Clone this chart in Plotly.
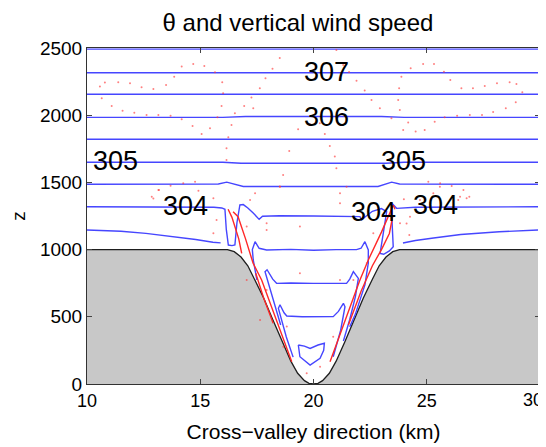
import plotly.graph_objects as go

# ---------------- data (km, m) ----------------
terrain_x = [10, 16.2, 16.5, 16.8, 17.1, 17.4, 17.8, 18.2, 18.6, 19.0, 19.3, 19.6, 19.8, 20.0,
             20.2, 20.4, 20.7, 21.0, 21.4, 21.8, 22.2, 22.6, 22.9, 23.2, 23.5, 23.8, 30]
terrain_z = [1000, 1000, 985, 945, 880, 780, 640, 480, 320, 170, 80, 25, 5, 0,
             5, 25, 80, 170, 320, 480, 640, 780, 880, 945, 985, 1000, 1000]

# potential temperature contours (blue)
th3075_x = [10, 30]
th3075_z = [2492, 2492]
th3070_x = [10, 30]
th3070_z = [2316, 2316]
th3065_x = [10, 16, 17, 23, 24, 30]
th3065_z = [2156, 2156, 2160, 2160, 2156, 2156]
th3060_x = [10, 16, 17, 23, 24, 30]
th3060_z = [1984, 1984, 1990, 1990, 1984, 1984]
th3055_x = [10, 30]
th3055_z = [1821, 1821]
th3050_x = [10, 16, 16.8, 23.2, 24, 30]
th3050_z = [1650, 1650, 1642, 1642, 1650, 1650]
th3045_x = [10, 15.8, 16.17, 16.5, 16.9, 22.85, 23.2, 23.45, 23.8, 30]
th3045_z = [1486, 1488, 1502, 1488, 1470, 1470, 1488, 1502, 1488, 1486]
th3040_x = [10, 14, 15.6, 15.95, 16.09, 16.15, 16.24, 16.4, 16.53, 16.62, 16.75, 16.9, 17.1,
            17.35, 17.6, 17.75, 18.5, 20, 21.5, 22.05, 22.12, 22.25, 22.6, 23.0, 23.23, 23.08,
            22.94, 23.1, 23.35, 23.52, 23.47, 23.47, 23.67, 24.5, 30]
th3040_z = [1319, 1319, 1315, 1310, 1300, 1150, 1034, 1030, 1034, 1200, 1332, 1335, 1310,
            1270, 1225, 1248, 1252, 1250, 1250, 1245, 1222, 1240, 1285, 1305, 1282, 1121,
            972, 965, 990, 1022, 1200, 1344, 1307, 1315, 1319]
th3035L_x = [10, 11.5, 12.6, 13.8, 14.8, 15.56, 15.9]
th3035L_z = [1146, 1137, 1121, 1098, 1075, 1055, 1050]
th3035R_x = [23.95, 24.5, 25.3, 26.5, 28.2, 30]
th3035R_z = [1049, 1068, 1086, 1112, 1133, 1146]
valA_x = [17.5, 17.34, 17.3, 17.42, 17.6, 17.93, 19.0, 20.0, 21.0, 21.9, 22.1, 22.27, 22.42,
          22.42, 22.27, 21.85, 21.6]
valA_z = [774, 923, 1000, 1059, 1010, 997, 1002, 995, 1000, 1000, 1010, 1059, 997,
          900, 737, 520, 426]
valB_x = [18.55, 18.2, 17.86, 17.95, 18.2, 18.37, 19.0, 20.0, 21.0, 21.46, 21.6, 21.76,
          21.98, 21.85, 21.6, 21.32]
valB_z = [439, 640, 836, 850, 780, 749, 752, 749, 752, 749, 780, 836,
          786, 650, 480, 320]
valC_x = [19.1, 18.8, 18.45, 18.52, 18.7, 18.82, 19.5, 20.2, 20.87, 21.1, 21.32, 21.39,
          21.2, 20.87]
valC_z = [200, 350, 563, 590, 530, 506, 500, 503, 501, 540, 600, 575, 400, 203]
valD_x = [19.33, 19.6, 19.85, 20.2, 20.48, 20.45, 20.29, 19.85, 19.4, 19.33]
valD_z = [290, 282, 265, 290, 303, 250, 191, 141, 203, 290]

# vertical wind speed contours (red)
wL1_x = [16.23, 16.4, 16.7, 16.83]
wL1_z = [1300, 1240, 1080, 972]
wL2_x = [16.45, 16.67, 17.0, 17.33, 17.71, 18.4, 19.04]
wL2_z = [1282, 1245, 1080, 900, 774, 460, 166]
wL3_x = [17.45, 17.8, 18.22]
wL3_z = [824, 640, 452]
wR1_x = [20.73, 21.2, 21.7, 22.05, 22.42, 23.0, 23.52, 23.6]
wR1_z = [166, 380, 600, 774, 923, 1130, 1330, 1300]
wR2_x = [21.54, 22.1, 22.6, 23.0, 23.35, 23.5]
wR2_z = [439, 690, 880, 1000, 1120, 1250]

# small-value vertical wind speed dots
dots_x = [10.57, 10.79, 11.38, 11.90, 12.41, 12.93, 13.49, 13.85, 14.18, 14.69, 15.18, 15.65,
          15.97, 16.01, 10.65, 11.09, 11.57, 12.09, 12.63, 13.15, 13.69, 14.18, 14.66, 15.06,
          15.43, 15.76, 15.94, 16.24, 16.38, 16.53, 16.94, 17.26, 17.63, 17.88, 18.19, 18.51,
          21.01, 21.31, 21.57, 21.90, 22.26, 22.56, 22.93, 23.44, 23.81, 23.74, 23.78, 23.88,
          24.29, 24.84, 25.32, 25.76, 26.04, 26.53, 27.04, 27.56, 28.10, 28.66, 28.96, 29.22,
          28.93, 28.49, 27.93, 27.44, 26.90, 26.34, 25.79, 25.35, 24.91, 24.51, 24.18, 23.96,
          16.16, 16.16, 18.93, 19.32, 19.84, 20.50, 20.72, 20.94, 21.01, 18.66, 18.51, 20.28,
          17.34, 12.93, 13.18, 13.69, 14.25, 14.77, 14.92, 25.07, 25.59, 26.10, 26.62, 26.88,
          26.39, 24.11, 24.23, 23.99, 12.86, 13.15, 15.58, 15.58, 15.72, 17.05, 17.42, 18.52,
          17.93, 21.17, 21.46, 23.82, 24.26, 24.70, 25.29, 26.47, 26.76, 25.58, 17.20, 17.93,
          19.40, 21.17, 17.05, 17.93, 19.40, 21.17, 21.76, 17.64, 18.82, 18.67, 21.61, 20.87,
          19.70, 20.29, 22.35, 22.64]
dots_z = [2213, 2243, 2245, 2238, 2208, 2195, 2225, 2287, 2362, 2381, 2367, 2319,
          2245, 2163, 2126, 2069, 2034, 2019, 2002, 2002, 1995, 1970, 1920, 1860,
          1902, 1984, 2069, 1836, 1927, 2014, 2069, 2131, 2200, 2274, 2346, 2426,
          2485, 2374, 2322, 2257, 2183, 2113, 2051, 1977, 2039, 2113, 2200, 2287,
          2349, 2381, 2381, 2324, 2262, 2200, 2200, 2217, 2237, 2245, 2232, 2170,
          2096, 2051, 2024, 2002, 2002, 1995, 1985, 1952, 1890, 1878, 1945, 1890,
          1754, 1667, 1734, 1895, 1935, 1860, 1771, 1692, 1605, 1555, 1469, 1940,
          2052, 1381, 1443, 1475, 1493, 1505, 1438, 1505, 1493, 1473, 1443, 1394,
          1369, 1195, 1108, 1374, 1394, 1444, 1382, 1121, 1220, 1171, 1419, 1468,
          1146, 1419, 1468, 1196, 1245, 1369, 1419, 1394, 1382, 1468, 1369, 1196,
          1171, 1344, 774, 700, 824, 774, 774, 476, 427, 278, 476, 352,
          80, 129, 898, 1121]

label_text = ["307", "306", "305", "305", "304", "304", "304"]
label_x = [20.57, 20.57, 11.24, 23.97, 14.35, 22.67, 25.39]
label_z = [2321, 1987, 1656, 1656, 1324, 1283, 1332]

x_ticks = [10, 15, 20, 25, 30]
x_tick_labels = ["10", "15", "20", "25", "30"]
z_ticks = [0, 500, 1000, 1500, 2000, 2500]

# ---------------- figure ----------------
# (the page body keeps its default 8px margin, so the figure is sized to fit inside it)
BLUE = "rgb(70,70,255)"
RED = "rgb(255,40,40)"
FONT = "Liberation Sans, Arial, Helvetica, sans-serif"
W, H = 538, 439

fig = go.Figure()

fig.add_trace(go.Scatter(x=terrain_x, y=terrain_z, mode="lines", fill="tozeroy",
                         fillcolor="rgb(200,200,200)",
                         line=dict(color="rgb(30,30,30)", width=1.3),
                         hoverinfo="skip", showlegend=False))

blue_lines = [(th3075_x, th3075_z), (th3070_x, th3070_z), (th3065_x, th3065_z),
              (th3060_x, th3060_z), (th3055_x, th3055_z), (th3050_x, th3050_z),
              (th3045_x, th3045_z), (th3040_x, th3040_z), (th3035L_x, th3035L_z),
              (th3035R_x, th3035R_z), (valA_x, valA_z), (valB_x, valB_z),
              (valC_x, valC_z), (valD_x, valD_z)]
for bx, bz in blue_lines:
    fig.add_trace(go.Scatter(x=bx, y=bz, mode="lines",
                             line=dict(color=BLUE, width=1.4),
                             hoverinfo="skip", showlegend=False))

red_lines = [(wL1_x, wL1_z), (wL2_x, wL2_z), (wL3_x, wL3_z), (wR1_x, wR1_z), (wR2_x, wR2_z)]
for rx, rz in red_lines:
    fig.add_trace(go.Scatter(x=rx, y=rz, mode="lines",
                             line=dict(color=RED, width=1.4),
                             hoverinfo="skip", showlegend=False))

fig.add_trace(go.Scatter(x=dots_x, y=dots_z, mode="markers",
                         marker=dict(color="rgba(255,60,60,0.65)", size=2),
                         hoverinfo="skip", showlegend=False))

for t, lx, lz in zip(label_text, label_x, label_z):
    fig.add_annotation(x=lx, y=lz, xref="x", yref="y", text=t, showarrow=False,
                       font=dict(family=FONT, size=27, color="black"))

# the last x tick label sits at the right page edge: draw it as an annotation
# right-aligned at its tick so it stays inside the page
fig.add_annotation(x=x_ticks[-1], y=0, xref="x", yref="paper", text=x_tick_labels[-1],
                   showarrow=False, xanchor="right", yanchor="top", xshift=5, yshift=-4,
                   font=dict(family=FONT, size=18, color="black"))

fig.update_layout(
    width=W, height=H,
    margin=dict(l=79, r=6, t=40, b=63),
    paper_bgcolor="white", plot_bgcolor="white",
    font=dict(family=FONT, color="black"),
    title=dict(text="θ and vertical wind speed", x=290 / W, xanchor="center",
               y=1 - 6 / H, yanchor="top", pad=dict(t=0, b=0),
               font=dict(family=FONT, size=24, color="black")),
    xaxis=dict(range=[10, 30], tickvals=x_ticks[:-1], ticktext=x_tick_labels[:-1],
               ticks="inside", ticklen=5,
               showline=True, mirror="ticks", linecolor="rgb(50,50,50)", linewidth=1,
               showgrid=False, zeroline=False, tickfont=dict(size=18),
               automargin=False,
               title=dict(text="Cross−valley direction (km)", font=dict(size=21), standoff=14)),
    yaxis=dict(range=[0, 2500], tickvals=z_ticks, ticks="inside", ticklen=5,
               showline=True, mirror="ticks", linecolor="rgb(50,50,50)", linewidth=1,
               showgrid=False, zeroline=False, tickfont=dict(size=19),
               automargin=False,
               title=dict(text="z", font=dict(size=19))),
)

fig.write_html("out.html")
